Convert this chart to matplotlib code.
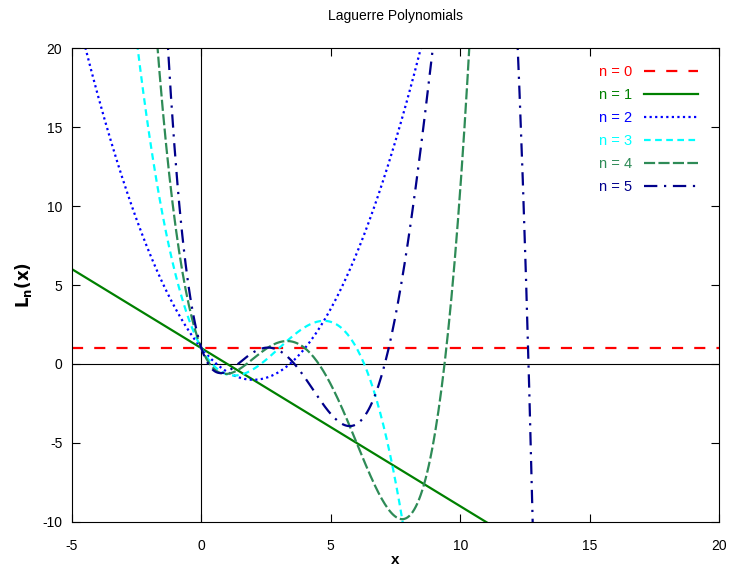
import numpy as np
import matplotlib
matplotlib.use("Agg")
import matplotlib.pyplot as plt

plt.rcParams['font.family'] = ['Liberation Sans', 'DejaVu Sans']
plt.rcParams['axes.unicode_minus'] = False

# Laguerre polynomial coefficients, lowest power first
labels = ['n = 0', 'n = 1', 'n = 2', 'n = 3', 'n = 4', 'n = 5']
coef_0 = [1]
coef_1 = [1, -1]
coef_2 = [1, -2, 1 / 2]
coef_3 = [1, -3, 3 / 2, -1 / 6]
coef_4 = [1, -4, 3, -2 / 3, 1 / 24]
coef_5 = [1, -5, 5, -5 / 3, 5 / 24, -1 / 120]
all_coefs = [coef_0, coef_1, coef_2, coef_3, coef_4, coef_5]

colors = ['#ff0000', '#008000', '#0000ff', '#00ffff', '#2e8b57', '#00008b']
styles = [(0, (5, 5)), '-', (0, (1, 1.5)), (0, (3, 2)), (0, (5, 1.5)), (0, (6, 3, 1, 3))]

x_min, x_max = -5, 20
y_min, y_max = -10, 20
x = np.linspace(x_min, x_max, 400)

fig = plt.figure(figsize=(7.32, 5.67), dpi=100)
ax = fig.add_axes([0.0984, 0.0794, 0.8838, 0.8359])

ax.axhline(0, color='black', lw=0.8, zorder=1)
ax.axvline(0, color='black', lw=0.8, zorder=1)

for lab, c, col, ls in zip(labels, all_coefs, colors, styles):
    y = np.polynomial.polynomial.polyval(x, c)
    ax.plot(x, y, color=col, linestyle=ls, lw=1.6, label=lab, zorder=2)

ax.set_xlim(x_min, x_max)
ax.set_ylim(y_min, y_max)
ax.set_xticks(np.arange(-5, 21, 5))
ax.set_yticks(np.arange(-10, 21, 5))
ax.tick_params(direction='in', top=True, right=True, length=6, labelsize=10, colors='black')
ax.tick_params(axis='x', pad=12)
ax.tick_params(axis='y', pad=7)
for sp in ax.spines.values():
    sp.set_linewidth(0.8)

ax.set_title('Laguerre Polynomials', fontsize=10, pad=20)
ax.set_xlabel('x', fontsize=11, fontweight='bold', labelpad=0)
ax.set_ylabel(r'$\mathbf{L_n(x)}$', fontsize=12, labelpad=6)

leg = ax.legend(loc='upper right', frameon=False, markerfirst=False,
                handlelength=3.7, handletextpad=0.8, fontsize=10.5,
                labelspacing=0.62, borderpad=0, borderaxespad=0,
                labelcolor='linecolor', bbox_to_anchor=(0.9675, 0.964))

fig.savefig('out.png', dpi=100)
